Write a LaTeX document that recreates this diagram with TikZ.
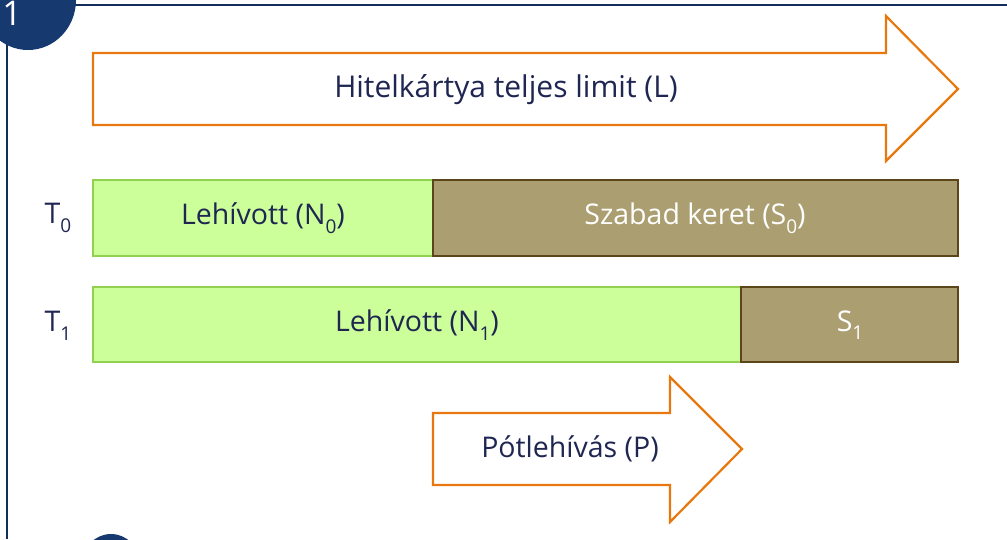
\documentclass[tikz,border=0pt]{standalone}
\usepackage{fontspec}
\setmainfont{Open Sans}
\definecolor{navy}{HTML}{163A70}
\definecolor{txtnavy}{HTML}{1F2652}
\definecolor{orng}{HTML}{E8780E}
\definecolor{grfill}{HTML}{CCFF99}
\definecolor{grline}{HTML}{92D050}
\definecolor{brfill}{HTML}{AB9E70}
\definecolor{brline}{HTML}{5C4518}
\newcommand{\lowsub}[1]{\raisebox{-0.3em}{\fontsize{19}{19}\selectfont #1}}
\tikzset{
  arrowshape/.style={draw=orng, line width=2.2pt, fill=white, line join=miter},
  greenbox/.style={draw=grline, fill=grfill, line width=2pt},
  brownbox/.style={draw=brline, fill=brfill, line width=2pt},
  darktext/.style={text=txtnavy, font=\fontsize{28.5}{32}\selectfont},
  lighttext/.style={text=white, font=\fontsize{28.5}{32}\selectfont},
  rowlabel/.style={text=txtnavy, font=\fontsize{28.5}{32}\selectfont},
}
\begin{document}
\begin{tikzpicture}[x=1pt,y=-1pt]
\useasboundingbox (0,0) rectangle (1007,539);
% frame
\draw[navy!80!black, line width=1.4pt] (60,5) -- (1007,5);
\draw[navy!80!black, line width=1.4pt] (7,40) -- (7,539);
\begin{scope}
\clip (0,0) rectangle (1007,539);
\fill[navy] (28,0) ellipse [x radius=48, y radius=50];
\fill[navy] (111,562) circle [radius=28];
\end{scope}
\node[text=white, font=\fontsize{34}{34}\selectfont, anchor=base, inner sep=0pt] (num) at (12,25) {1};
% big arrow
\draw[arrowshape] (93,53) -- (886,53) -- (886,16) -- (958,89) -- (886,161) -- (886,125) -- (93,125) -- cycle;
\node[darktext, font=\fontsize{30}{34}\selectfont] (L) at (506,90) {Hitelkártya teljes limit (L)};
% row T0
\node[rowlabel] (t0) at (58,218) {T\lowsub{0}};
\draw[greenbox] (93,180) rectangle (433,256);
\draw[brownbox] (433,180) rectangle (958,256);
\node[darktext] (n0) at (263,218) {Lehívott (N\lowsub{0})};
\node[lighttext] (s0) at (695,218) {Szabad keret (S\lowsub{0})};
% row T1
\node[rowlabel] (t1) at (58,326) {T\lowsub{1}};
\draw[greenbox] (93,287) rectangle (741,362);
\draw[brownbox] (741,287) rectangle (958,362);
\node[darktext] (n1) at (417,325) {Lehívott (N\lowsub{1})};
\node[lighttext] (s1) at (850,325) {S\lowsub{1}};
% small arrow
\draw[arrowshape] (433,413) -- (670,413) -- (670,377) -- (742,449) -- (670,522) -- (670,485) -- (433,485) -- cycle;
\node[darktext] (p) at (570,449) {Pótlehívás (P)};
\end{tikzpicture}
\end{document}
